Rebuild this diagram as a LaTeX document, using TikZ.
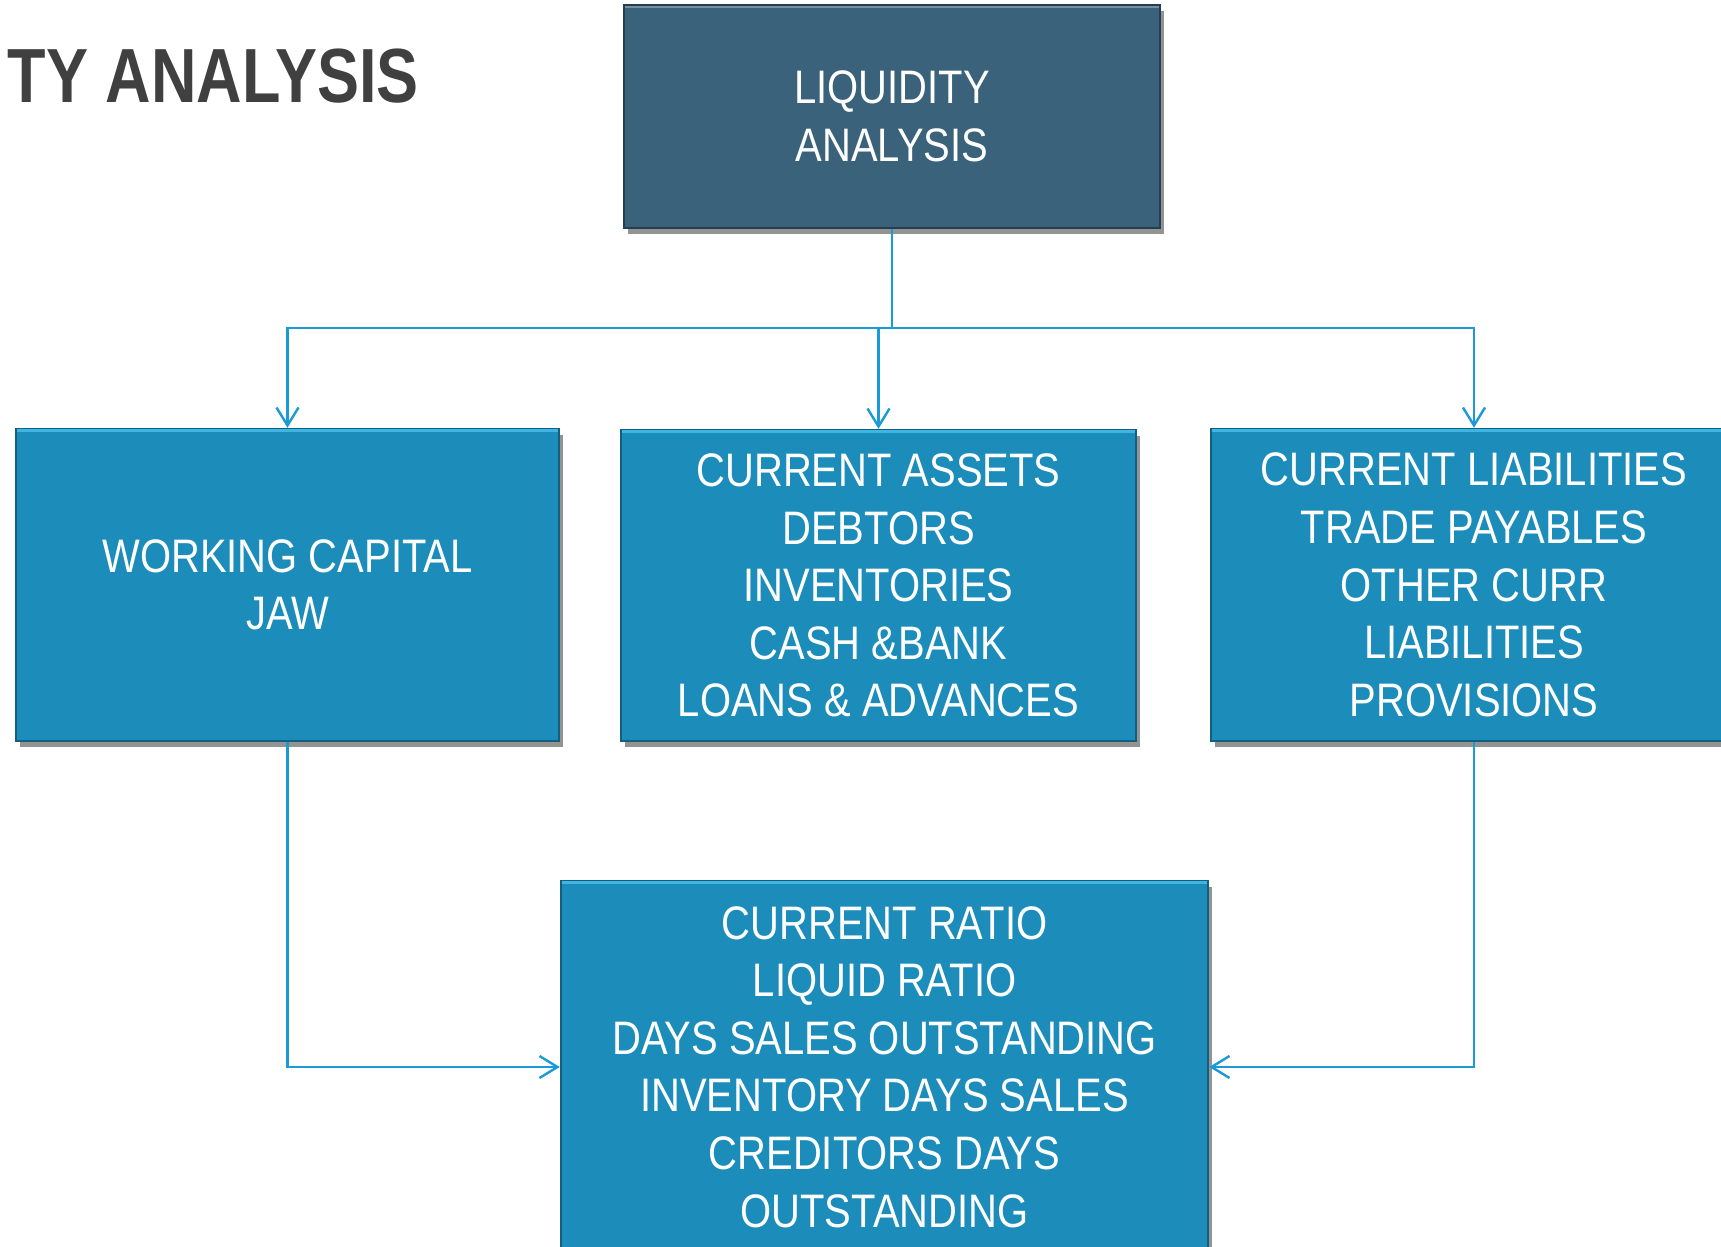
\documentclass[tikz,border=0pt]{standalone}
\usepackage{fontspec}
\usetikzlibrary{arrows.meta,shadows}
\newfontfamily\boxfont[FakeStretch=0.85]{Liberation Sans}
\newfontfamily\headfont[FakeStretch=0.82]{Liberation Sans}
\definecolor{topfill}{HTML}{3B627B}
\definecolor{topedge}{HTML}{243F51}
\definecolor{boxfill}{HTML}{1C8DBA}
\definecolor{boxedge}{HTML}{135F7E}
\definecolor{bevlight}{HTML}{3FB5E3}
\definecolor{linkcol}{HTML}{1A9AD6}
\definecolor{titlecol}{HTML}{404040}
\tikzset{
  basebox/.style={rectangle, inner sep=0pt, align=center, text=white,
    font=\boxfont\fontsize{23.5}{28.8}\selectfont,
    drop shadow={shadow xshift=2pt, shadow yshift=-3pt, opacity=0.6, fill=black!70},
    line width=1.2pt},
  darkbox/.style={basebox, fill=topfill, draw=topedge},
  bluebox/.style={basebox, fill=boxfill, draw=boxedge},
  conn/.style={draw=linkcol, line width=1.2pt},
  arr/.style={conn, -{Straight Barb[length=9pt,width=11pt,line width=1.2pt]}},
}
\begin{document}
\begin{tikzpicture}[x=0.5pt,y=-0.5pt]
\useasboundingbox (0,0) rectangle (1721,1247);
\fill[white] (0,0) rectangle (1721,1247);

\node[anchor=base east, text=titlecol, font=\headfont\bfseries\fontsize{38.4}{44}\selectfont, inner sep=0pt] (title) at (419,103) {TY ANALYSIS};

\node[darkbox, minimum width=268pt, minimum height=111.5pt] (top) at (892,116.5) {LIQUIDITY\\ANALYSIS};

\node[bluebox, minimum width=271.5pt, minimum height=156pt] (left) at (287.5,585) {WORKING CAPITAL\\JAW};
\node[bluebox, minimum width=257.5pt, minimum height=155.5pt] (mid) at (878.5,585.5) {CURRENT ASSETS\\DEBTORS\\INVENTORIES\\CASH \&BANK\\LOANS \& ADVANCES};
\node[bluebox, minimum width=263pt, minimum height=156pt] (right) at (1474,585) {CURRENT LIABILITIES\\TRADE PAYABLES\\OTHER CURR\\LIABILITIES\\PROVISIONS};
\node[bluebox, minimum width=323.5pt, minimum height=186pt] (bot) at (884.5,1067) {CURRENT RATIO\\LIQUID RATIO\\DAYS SALES OUTSTANDING\\INVENTORY DAYS SALES\\CREDITORS DAYS\\OUTSTANDING};

% bevel highlights along top edges
\foreach \n in {left,mid,right,bot}{
  \draw[bevlight, line width=1.5pt] ([xshift=1pt,yshift=-1.5pt]\n.north west) -- ([xshift=-1pt,yshift=-1.5pt]\n.north east);
}
\draw[topfill!70!white, line width=1.2pt] ([xshift=1pt,yshift=-1.5pt]top.north west) -- ([xshift=-1pt,yshift=-1.5pt]top.north east);

\coordinate (hub) at (892,328);
\draw[conn] (top.south) -- (hub);
\draw[arr] (hub) -| (left.north);
\draw[arr] (hub) -| (mid.north);
\draw[arr] (hub) -| (right.north);
\draw[arr] (left.south) |- (bot.west);
\draw[arr] (right.south) |- (bot.east);
\end{tikzpicture}
\end{document}
